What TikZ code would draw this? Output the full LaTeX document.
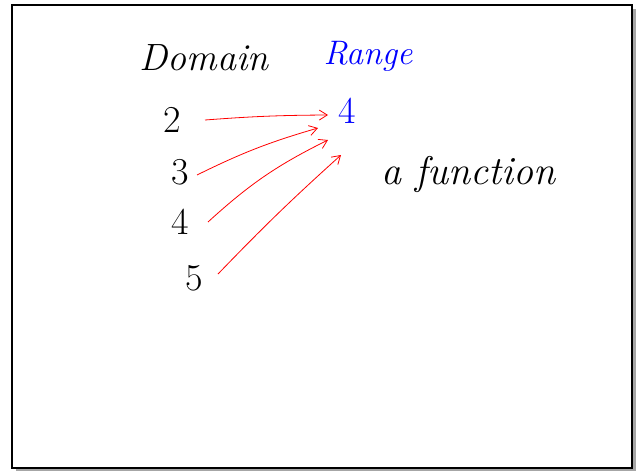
\documentclass[tikz,border=0pt]{standalone}
\usetikzlibrary{arrows.meta}
\begin{document}
\begin{tikzpicture}[x=1pt,y=-1pt,
  hand/.style={font=\itshape\fontsize{38}{40}\selectfont, inner sep=0pt},
  num/.style={font=\fontsize{38}{40}\selectfont, inner sep=0pt},
  maparrow/.style={red, line width=0.8pt, -{Straight Barb[length=8pt,width=10pt]}}]
\useasboundingbox (0,0) rectangle (639,471);
% shadow
\fill[gray!70] (16,9) rectangle (636,471);
\fill[white] (12,5) rectangle (632,468);
\draw[line width=1.5pt] (12,5) rectangle (632,468);
% headings
\node[hand] (dom) at (204,58) {Domain};
\node[hand, blue, font=\itshape\fontsize{34}{36}\selectfont] (rng) at (368,56) {Range};
% domain values
\node[num] (d2) at (172,120) {2};
\node[num] (d3) at (180,172) {3};
\node[num] (d4) at (180,222) {4};
\node[num] (d5) at (194,278) {5};
% range value
\node[num, blue] (r4) at (347,111) {4};
\node[hand, font=\itshape\fontsize{40}{42}\selectfont] (fn) at (468,174) {a function};
% arrows
\coordinate (t2) at (328,115);
\coordinate (t3) at (318,128);
\coordinate (t4) at (328,140);
\coordinate (t5) at (341,155);
\draw[maparrow] (205,120) to[bend left=2] (t2);
\draw[maparrow] (197,175) to[bend left=5] (t3);
\draw[maparrow] (208,222) to[bend left=8] (t4);
\draw[maparrow] (218,274) to[bend left=2] (t5);
\end{tikzpicture}
\end{document}
